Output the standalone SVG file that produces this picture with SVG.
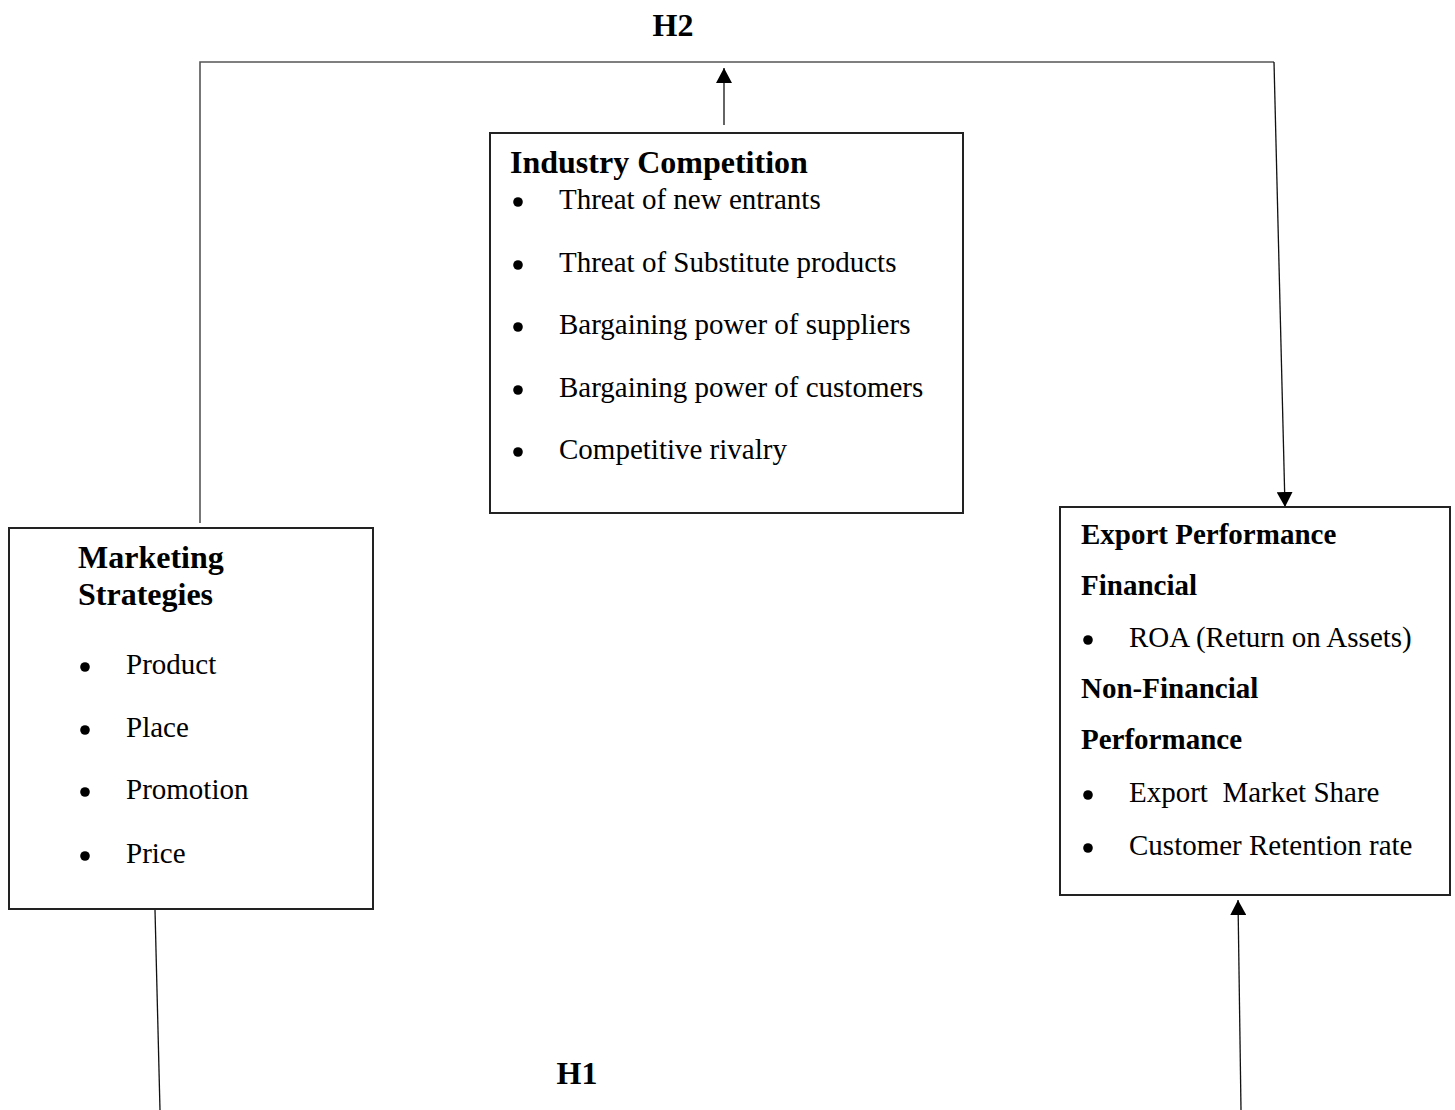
<svg xmlns="http://www.w3.org/2000/svg" width="1455" height="1110" viewBox="0 0 1455 1110">
<style>
text{font-family:"Liberation Serif","Times New Roman",serif;fill:#000}
.t{font-size:32px;font-weight:bold}
.h{font-size:29px;font-weight:bold}
.i{font-size:29px;white-space:pre}
.box{fill:#fff;stroke:#222;stroke-width:2}
.ln{fill:none;stroke:#111;stroke-width:1.3}
.gl{fill:none;stroke:#555;stroke-width:1.6}
.b{fill:#000}
</style>
<defs>
<marker id="ah" markerUnits="userSpaceOnUse" markerWidth="15" markerHeight="16" viewBox="0 0 15 16" refX="15" refY="8" orient="auto">
<path d="M0,0 L15,8 L0,16 Z" fill="#000"/>
</marker>
</defs>
<g id="connectors">
<polyline class="gl" points="200,523 200,62 1274,62"/>
<line class="ln" x1="1274" y1="62" x2="1285" y2="507" marker-end="url(#ah)"/>
<line class="ln" x1="724" y1="125" x2="724" y2="68" marker-end="url(#ah)"/>
<line class="ln" x1="155" y1="910" x2="160" y2="1110"/>
<line class="ln" x1="1241" y1="1110" x2="1238" y2="900" marker-end="url(#ah)"/>
</g>
<g id="label-h2"><text class="t" x="673" y="36" text-anchor="middle">H2</text></g>
<g id="label-h1"><text class="t" x="577" y="1084" text-anchor="middle">H1</text></g>
<g id="industry-competition">
<rect class="box" x="490" y="133" width="473" height="380"/>
<text class="t" x="510" y="173">Industry Competition</text>
<circle class="b" cx="518" cy="202" r="4.8"/><text class="i" x="559" y="209">Threat of new entrants</text>
<circle class="b" cx="518" cy="265" r="4.8"/><text class="i" x="559" y="272">Threat of Substitute products</text>
<circle class="b" cx="518" cy="327" r="4.8"/><text class="i" x="559" y="334">Bargaining power of suppliers</text>
<circle class="b" cx="518" cy="390" r="4.8"/><text class="i" x="559" y="397">Bargaining power of customers</text>
<circle class="b" cx="518" cy="452" r="4.8"/><text class="i" x="559" y="459">Competitive rivalry</text>
</g>
<g id="marketing-strategies">
<rect class="box" x="9" y="528" width="364" height="381"/>
<text class="t" x="78" y="568">Marketing</text>
<text class="t" x="78" y="605">Strategies</text>
<circle class="b" cx="85" cy="667" r="4.8"/><text class="i" x="126" y="674">Product</text>
<circle class="b" cx="85" cy="730" r="4.8"/><text class="i" x="126" y="737">Place</text>
<circle class="b" cx="85" cy="792" r="4.8"/><text class="i" x="126" y="799">Promotion</text>
<circle class="b" cx="85" cy="856" r="4.8"/><text class="i" x="126" y="863">Price</text>
</g>
<g id="export-performance">
<rect class="box" x="1060" y="507" width="390" height="388"/>
<text class="h" x="1081" y="544">Export Performance</text>
<text class="h" x="1081" y="595">Financial</text>
<circle class="b" cx="1088" cy="640" r="4.8"/><text class="i" x="1129" y="647">ROA (Return on Assets)</text>
<text class="h" x="1081" y="698">Non-Financial</text>
<text class="h" x="1081" y="749">Performance</text>
<circle class="b" cx="1088" cy="795" r="4.8"/><text class="i" x="1129" y="802">Export  Market Share</text>
<circle class="b" cx="1088" cy="848" r="4.8"/><text class="i" x="1129" y="855">Customer Retention rate</text>
</g>
</svg>
